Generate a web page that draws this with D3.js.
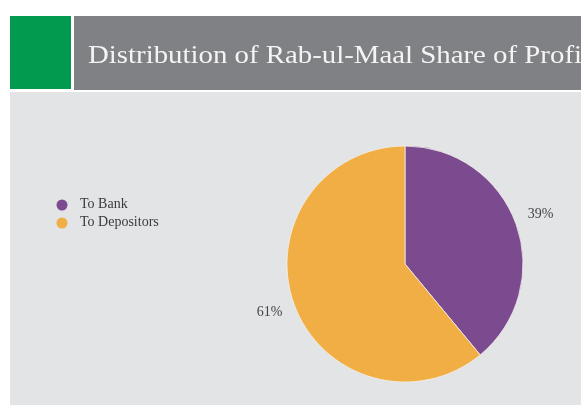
<!DOCTYPE html>
<html>
<head>
<meta charset="utf-8">
<script src="https://cdn.jsdelivr.net/npm/d3@7"></script>
<style>
  html, body { margin: 0; padding: 0; background: #ffffff; }
  svg { display: block; }
</style>
</head>
<body>
<svg id="chart" width="581" height="405"></svg>
<script>
// Profit share split
const categories = ["To Bank", "To Depositors"];
const shares = [39, 61];
const sliceColors = ["#7c4a8e", "#f0ae45"];
const titleText = "Distribution of Rab-ul-Maal Share of Profit";

const svg = d3.select("#chart");
const W = 581, H = 405;
const serif = "'Liberation Serif', 'DejaVu Serif', serif";

// Soft edge for the text
const defs = svg.append("defs");
defs.append("filter").attr("id", "soft")
  .append("feGaussianBlur").attr("stdDeviation", 0.35);

// Background panel
svg.append("rect").attr("x", 10).attr("y", 92).attr("width", W - 10).attr("height", H - 92)
  .attr("fill", "#e3e4e6");

// Header band: green block + gray title bar
svg.append("rect").attr("x", 10).attr("y", 16).attr("width", 61).attr("height", 73)
  .attr("fill", "#019a4f");
svg.append("rect").attr("x", 74).attr("y", 16).attr("width", W - 74).attr("height", 74)
  .attr("fill", "#808185");
svg.append("text").attr("x", 88).attr("y", 63)
  .attr("font-family", serif)
  .attr("font-size", 25)
  .attr("textLength", 502)
  .attr("lengthAdjust", "spacingAndGlyphs")
  .attr("fill", "#f4f4f4")
  .attr("filter", "url(#soft)")
  .text(titleText);

// Pie
const cx = 405, cy = 264, r = 118;
const pie = d3.pie().sort(null).value(d => d)(shares);
const arc = d3.arc().innerRadius(0).outerRadius(r);
const g = svg.append("g").attr("transform", `translate(${cx},${cy})`);
g.selectAll("path").data(pie).join("path")
  .attr("d", arc)
  .attr("fill", (d, i) => sliceColors[i])
  .attr("stroke", "#f2f0ea")
  .attr("stroke-width", 0.8);

// Percentage labels outside the slices
const labelArc = d3.arc().innerRadius(r + 26).outerRadius(r + 26);
g.selectAll("text.pct").data(pie).join("text")
  .attr("class", "pct")
  .attr("transform", d => {
    const [x, y] = labelArc.centroid(d);
    return `translate(${x},${y})`;
  })
  .attr("text-anchor", "middle")
  .attr("dominant-baseline", "middle")
  .attr("font-family", serif)
  .attr("font-size", 14)
  .attr("fill", "#444")
  .attr("filter", "url(#soft)")
  .text(d => d.data + "%");

// Legend
const legend = svg.append("g").attr("transform", "translate(62,205)");
const items = legend.selectAll("g").data(categories).join("g")
  .attr("transform", (d, i) => `translate(0,${i * 18})`);
items.append("circle").attr("r", 5.5).attr("fill", (d, i) => sliceColors[i]);
items.append("text").attr("x", 18).attr("y", 0)
  .attr("dominant-baseline", "middle")
  .attr("font-family", serif)
  .attr("font-size", 14)
  .attr("fill", "#3a3a3a")
  .attr("filter", "url(#soft)")
  .text(d => d);
</script>
</body>
</html>
